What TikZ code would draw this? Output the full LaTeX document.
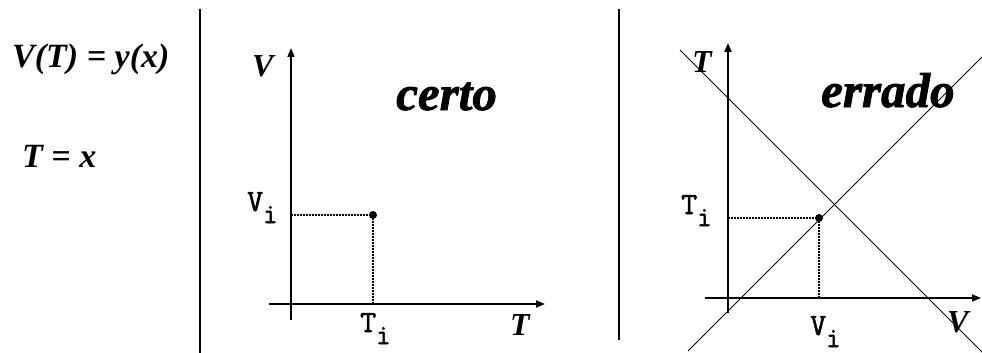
\documentclass[tikz,border=0pt]{standalone}
\usepackage{fontspec}
\setmainfont{Liberation Serif}
\newfontfamily\heavyfont{Liberation Serif Bold Italic}[FakeBold=1.6]
\newfontfamily\monoheavy{Latin Modern Mono}[FakeBold=1.8]
\usetikzlibrary{arrows.meta}
\begin{document}
\begin{tikzpicture}[x=1pt,y=-1pt,
  axis/.style={line width=1.8pt,-{Triangle[length=9pt,width=7pt]}},
  sep/.style={line width=2.2pt},
  guide/.style={line width=1.3pt,dash pattern=on 1.5pt off 1.5pt},
  diag/.style={line width=1pt},
  eq/.style={font=\fontsize{34}{38}\selectfont\bfseries\itshape, inner sep=0pt, anchor=base west},
  axl/.style={font=\fontsize{32}{36}\selectfont\bfseries\itshape, inner sep=0pt, anchor=base west},
  big/.style={font=\fontsize{49}{52}\selectfont\heavyfont, inner sep=0pt, anchor=base west},
  mlab/.style={font=\fontsize{31}{33}\selectfont\monoheavy, inner sep=0pt, anchor=base west},
  pt/.style={circle, fill=black, inner sep=0pt, minimum size=8pt}]
\useasboundingbox (0,0) rectangle (982,353);
\newcommand{\lowi}{\raisebox{-12pt}{\fontsize{28}{30}\selectfont i}}
% left text
\node[eq] (eq1) at (12,67) {V(T) = y(x)};
\node[eq] (eq2) at (22,167) {T = x};
% separators
\coordinate (s1a) at (200,9); \coordinate (s1b) at (200,353);
\coordinate (s2a) at (619,9); \coordinate (s2b) at (619,340);
\draw[sep] (s1a) -- (s1b);
\draw[sep] (s2a) -- (s2b);
% middle plot
\coordinate (m0) at (291,320); \coordinate (mtop) at (291,48);
\coordinate (mh0) at (269,304); \coordinate (mright) at (545,304);
\draw[axis] (m0) -- (mtop);
\draw[axis] (mh0) -- (mright);
\node[pt] (mp) at (373,215) {};
\coordinate (mvy) at (291,215); \coordinate (mvx) at (373,304);
\draw[guide] (mvy) -- (mp.center);
\draw[guide] (mp.center) -- (mvx);
\node[axl] (mV) at (252,77) {V};
\node[axl] (mT) at (510,335) {T};
\node[big] (certo) at (396,110) {certo};
\node[mlab] (mVi) at (247,211) {V\lowi};
\node[mlab] (mTi) at (360,332) {T\lowi};
% right plot
\coordinate (r0) at (728,313); \coordinate (rtop) at (728,43);
\coordinate (rh0) at (705,298); \coordinate (rright) at (981,298);
\draw[axis] (r0) -- (rtop);
\draw[axis] (rh0) -- (rright);
\coordinate (d1a) at (680,50); \coordinate (d1b) at (983,353);
\coordinate (d2a) at (688,351); \coordinate (d2b) at (983,56);
\draw[diag] (d1a) -- (d1b);
\draw[diag] (d2a) -- (d2b);
\node[pt] (rp) at (819,218) {};
\coordinate (rvy) at (728,218); \coordinate (rvx) at (819,298);
\draw[guide] (rvy) -- (rp.center);
\draw[guide] (rp.center) -- (rvx);
\node[axl] (rT) at (692,73) {T};
\node[axl] (rV) at (947,332) {V};
\node[big] (errado) at (821,107) {errado};
\node[mlab] (rTi) at (681,214) {T\lowi};
\node[mlab] (rVi) at (810,335) {V\lowi};
\end{tikzpicture}
\end{document}
